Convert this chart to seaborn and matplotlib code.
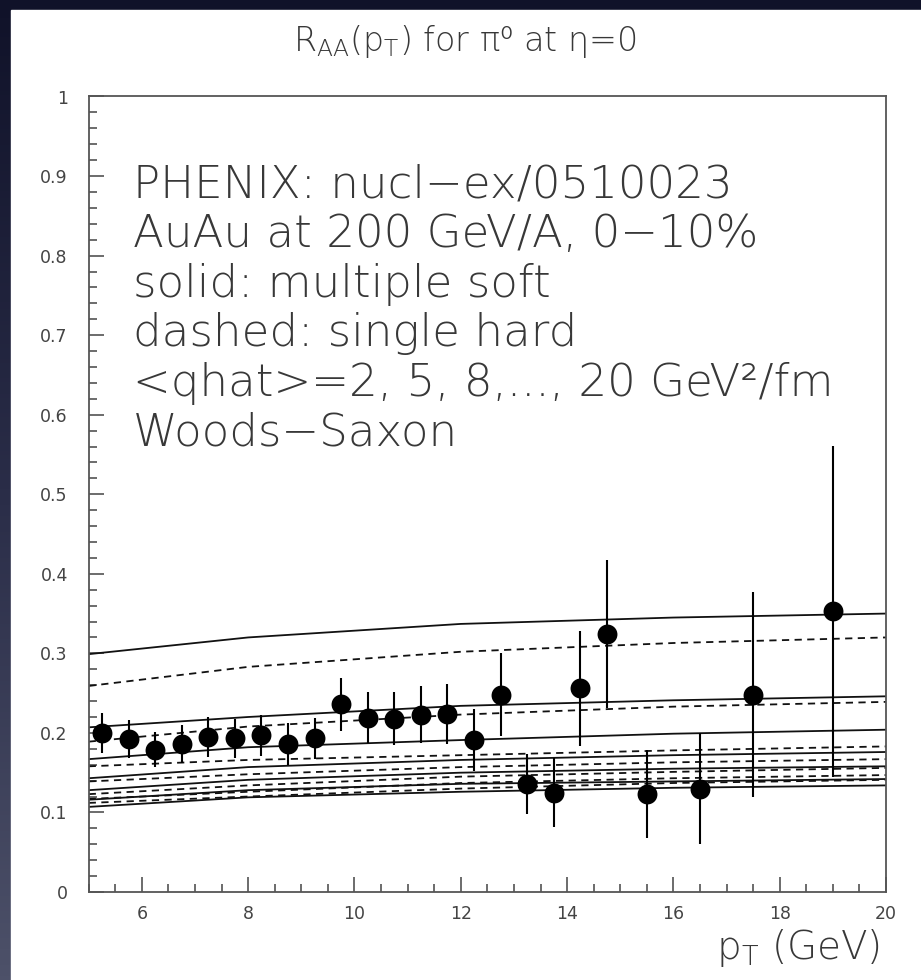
import numpy as np
import pandas as pd
import matplotlib
matplotlib.use("Agg")
import matplotlib.pyplot as plt
import seaborn as sns
from matplotlib.ticker import MultipleLocator
from matplotlib.colors import LinearSegmentedColormap

# PHENIX pi0 R_AA data points (central AuAu, 200 GeV)
pt_data = [5.25, 5.75, 6.25, 6.75, 7.25, 7.75, 8.25, 8.75, 9.25, 9.75, 10.25, 10.75,
           11.25, 11.75, 12.25, 12.75, 13.25, 13.75, 14.25, 14.75, 15.5, 16.5, 17.5, 19.0]
raa_data = [0.200, 0.192, 0.179, 0.186, 0.195, 0.193, 0.197, 0.186, 0.193, 0.236, 0.219, 0.218,
            0.223, 0.224, 0.191, 0.248, 0.136, 0.125, 0.256, 0.324, 0.123, 0.130, 0.248, 0.353]
raa_err = [0.025, 0.024, 0.022, 0.024, 0.025, 0.025, 0.026, 0.026, 0.026, 0.033, 0.032, 0.033,
           0.036, 0.038, 0.039, 0.052, 0.038, 0.043, 0.072, 0.093, 0.055, 0.070, 0.129, 0.208]

# Model curves sampled at these pT values, <qhat> = 2, 5, 8, ..., 20 GeV^2/fm
pt_model = [5, 8, 12, 16, 20]
qhat_values = [2, 5, 8, 11, 14, 17, 20]
soft_curves = [
    [0.299, 0.320, 0.337, 0.345, 0.350],
    [0.207, 0.220, 0.234, 0.241, 0.246],
    [0.167, 0.182, 0.191, 0.199, 0.204],
    [0.143, 0.157, 0.166, 0.172, 0.176],
    [0.128, 0.141, 0.150, 0.155, 0.158],
    [0.116, 0.128, 0.136, 0.139, 0.142],
    [0.107, 0.119, 0.126, 0.131, 0.134],
]
hard_curves = [
    [0.259, 0.283, 0.302, 0.313, 0.320],
    [0.189, 0.208, 0.223, 0.233, 0.239],
    [0.158, 0.166, 0.172, 0.178, 0.183],
    [0.139, 0.148, 0.157, 0.163, 0.167],
    [0.123, 0.134, 0.145, 0.151, 0.156],
    [0.117, 0.126, 0.137, 0.143, 0.147],
    [0.112, 0.120, 0.130, 0.137, 0.141],
]

info_lines = [
    "PHENIX: nucl\u2212ex/0510023",
    "AuAu at 200 GeV/A, 0\u221210%",
    "solid: multiple soft",
    "dashed: single hard",
    "<qhat>=2, 5, 8,..., 20 GeV\u00b2/fm",
    "Woods\u2212Saxon",
]

rows = []
for kind, curves in (("soft", soft_curves), ("hard", hard_curves)):
    for q, vals in zip(qhat_values, curves):
        for p, v in zip(pt_model, vals):
            rows.append({"pt": p, "raa": v, "kind": kind, "curve": f"{kind}{q}"})
models = pd.DataFrame(rows)
points = pd.DataFrame({"pt": pt_data, "raa": raa_data, "err": raa_err})

sns.set_style("ticks")
plt.rcParams["font.family"] = ["DejaVu Sans"]
plt.rcParams["mathtext.fontset"] = "custom"
plt.rcParams["mathtext.rm"] = "DejaVu Sans:light"
plt.rcParams["mathtext.fallback"] = "cm"

W, H = 921, 980
fig = plt.figure(figsize=(W / 100, H / 100), dpi=100)

# slide background: dark navy fading to slate, with a white page on top
bg = fig.add_axes([0, 0, 1, 1])
cmap = LinearSegmentedColormap.from_list("slide", ["#101229", "#2a2d48", "#4d5169"])
grad = np.linspace(0, 1, 256).reshape(-1, 1)
bg.imshow(grad, aspect="auto", cmap=cmap, extent=[0, 1, 0, 1], origin="upper")
bg.add_patch(plt.Rectangle((11 / W, 0), 1, 1 - 10 / H, color="white", zorder=2))
bg.set_xlim(0, 1)
bg.set_ylim(0, 1)
bg.axis("off")

x0, x1 = 88.7, 886.0
y0, y1 = 892.0, 96.5
ax = fig.add_axes([x0 / W, 1 - y0 / H, (x1 - x0) / W, (y0 - y1) / H])
ax.set_facecolor("white")

sns.lineplot(data=models, x="pt", y="raa", units="curve", style="kind", estimator=None,
             dashes={"soft": "", "hard": (4, 3)}, color="#111111", linewidth=1.3,
             legend=False, ax=ax, zorder=2)

ax.errorbar(points["pt"], points["raa"], yerr=points["err"], fmt="none",
            ecolor="black", elinewidth=1.5, capsize=0, zorder=3)
sns.scatterplot(data=points, x="pt", y="raa", s=205, color="black", linewidth=0,
                ax=ax, zorder=4, legend=False)

ax.set_xlim(5, 20)
ax.set_ylim(0, 1)
ax.xaxis.set_minor_locator(MultipleLocator(0.5))
ax.yaxis.set_minor_locator(MultipleLocator(0.02))
ax.set_xticks([6, 8, 10, 12, 14, 16, 18, 20])
ax.set_xticklabels(["6", "8", "10", "12", "14", "16", "18", "20"])
ax.set_yticks([i / 10 for i in range(11)])
ax.set_yticklabels(["0", "0.1", "0.2", "0.3", "0.4", "0.5", "0.6", "0.7", "0.8", "0.9", "1"])
ax.tick_params(axis="both", which="both", direction="in", colors="#444444",
               top=False, right=False, labelsize=12.5)
ax.tick_params(axis="both", which="major", length=11, width=1.1)
ax.tick_params(axis="both", which="minor", length=5.5, width=1.1)
ax.tick_params(axis="y", which="major", pad=15)
ax.tick_params(axis="x", which="major", pad=9)
for sp in ax.spines.values():
    sp.set_visible(True)
    sp.set_color("#555555")
    sp.set_linewidth(1.3)
ax.set_xlabel("")
ax.set_ylabel("")

for i, line in enumerate(info_lines):
    py = 185 + 49.5 * i
    ax.text((133 - x0) / (x1 - x0), (y0 - py) / (y0 - y1), line, transform=ax.transAxes,
            ha="left", va="center", fontsize=32.5, color="#383838", fontweight="light")

fig.text(465 / W, 1 - 42 / H, "R$_{\\rm AA}$(p$_{\\rm T}$) for \u03c0\u2070 at \u03b7=0",
         ha="center", va="center", fontsize=24, color="#383838", fontweight="light")
fig.text(880 / W, 1 - 948 / H, "p$_{\\rm T}$ (GeV)", ha="right", va="center",
         fontsize=28, color="#383838", fontweight="light")

fig.savefig("out.png", dpi=100)
